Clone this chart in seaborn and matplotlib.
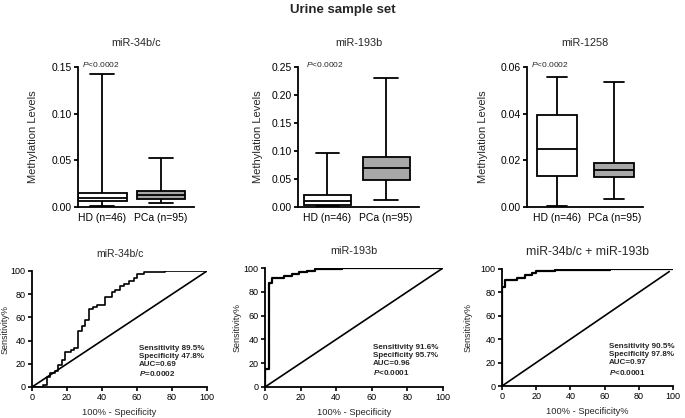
import numpy as np
import pandas as pd
import matplotlib
matplotlib.use("Agg")
import matplotlib.pyplot as plt
from matplotlib.ticker import FormatStrFormatter
import seaborn as sns

sns.set_style("ticks")
plt.rcParams['font.family'] = ['Liberation Sans', 'DejaVu Sans']
plt.rcParams['mathtext.fontset'] = 'custom'
plt.rcParams['mathtext.rm'] = 'Liberation Sans'
plt.rcParams['mathtext.it'] = 'Liberation Sans:italic'
plt.rcParams['mathtext.bf'] = 'Liberation Sans:bold'
plt.rcParams['mathtext.bfit'] = 'Liberation Sans:italic:bold'

# box plots: min, Q1, median, Q3, max
groups = ["HD (n=46)", "PCa (n=95)"]
mir34_hd = [0.001, 0.006, 0.010, 0.015, 0.142]
mir34_pca = [0.0046, 0.009, 0.0125, 0.017, 0.053]
mir193_hd = [0.002, 0.004, 0.011, 0.021, 0.097]
mir193_pca = [0.013, 0.049, 0.070, 0.090, 0.230]
mir1258_hd = [0.0004, 0.0131, 0.0249, 0.0393, 0.0557]
mir1258_pca = [0.0036, 0.0129, 0.0157, 0.0189, 0.0536]

# ROC curves (100% - specificity, sensitivity %)
fpr34 = [0, 6.5, 6.5, 8.8, 8.8, 10, 10, 13, 13, 15, 15, 17, 17, 19, 19, 22, 22, 24, 24,
         26.3, 26.3, 28.5, 28.5, 30.5, 30.5, 32.5, 32.5, 35, 35, 37, 37, 41.5, 41.5,
         45.5, 45.5, 47.5, 47.5, 50, 50, 52.5, 52.5, 55.5, 55.5, 58, 58, 60, 60, 64, 64,
         76, 76, 100]
tpr34 = [0, 0, 2, 2, 9, 9, 12, 12, 14, 14, 19, 19, 23, 23, 30, 30, 32, 32, 34,
         34, 48, 48, 53, 53, 58, 58, 67, 67, 69, 69, 71, 71, 78,
         78, 82, 82, 84, 84, 87, 87, 89, 89, 91, 91, 94, 94, 97, 97, 99,
         99, 100, 100]
fpr193 = [0, 0, 2.1, 2.1, 3.9, 3.9, 10.5, 10.5, 15.2, 15.2, 18.9, 18.9, 23.6, 23.6,
          28.3, 28.3, 37.6, 37.6, 43.3, 43.3, 100]
tpr193 = [0, 15, 15, 87.5, 87.5, 92, 92, 93.5, 93.5, 95, 95, 96.5, 96.5, 97.5,
          97.5, 98.8, 98.8, 99.4, 99.4, 100, 100]
fpr_combo = [0, 0, 1.8, 1.8, 8.6, 8.6, 13.5, 13.5, 17.3, 17.3, 19.9, 19.9, 31, 31, 63, 63, 100]
tpr_combo = [0, 84.5, 84.5, 90.3, 90.3, 92.3, 92.3, 94.6, 94.6, 96.6, 96.6, 98, 98, 99.4, 99.4, 100, 100]
diag_full = [0, 100]
diag_combo = [0, 97.8]

stats34 = ["Sensitivity 89.5%", "Specificity 47.8%", "AUC=0.69", "$\\mathbfit{P}$=0.0002"]
stats193 = ["Sensitivity 91.6%", "Specificity 95.7%", "AUC=0.96", "$\\mathbfit{P}$<0.0001"]
stats_combo = ["Sensitivity 90.5%", "Specificity 97.8%", "AUC=0.97", "$\\mathbfit{P}$<0.0001"]

W, H = 685, 418


def px(x0, y0, x1, y1):
    return [x0 / W, (H - y1) / H, (x1 - x0) / W, (y1 - y0) / H]


fig = plt.figure(figsize=(6.85, 4.18), dpi=100)
fig.text(0.5, 1 - 10 / H, "Urine sample set", ha="center", va="center",
         fontsize=9.5, fontweight="bold")


def style_axes(ax):
    sns.despine(ax=ax)
    for s in ["left", "bottom"]:
        ax.spines[s].set_linewidth(1.3)
        ax.spines[s].set_color("black")


def box_panel(rect, title, hd, pca, ymax, ystep, xlim, width, p_x, ylab_x):
    ax = fig.add_axes(px(*rect))
    df = pd.DataFrame({"group": [groups[0]] * len(hd) + [groups[1]] * len(pca),
                       "value": hd + pca})
    sns.boxplot(data=df, x="group", y="value", hue="group",
                palette={groups[0]: "white", groups[1]: "#a8a8a8"},
                saturation=1, whis=(0, 100), width=width, linecolor="black",
                linewidth=1.3, legend=False, ax=ax)
    style_axes(ax)
    ax.set_xlim(*xlim)
    ax.set_ylim(0, ymax)
    ax.set_yticks(np.arange(0, ymax + 1e-9, ystep))
    ax.yaxis.set_major_formatter(FormatStrFormatter("%.2f"))
    ax.tick_params(axis="x", length=0, pad=4.5, labelsize=7.5, colors="black")
    ax.tick_params(axis="y", length=3, width=1.3, pad=1.5, labelsize=7.5, colors="black")
    ax.set_xlabel("")
    ax.set_ylabel("Methylation Levels", fontsize=8)
    ax.yaxis.set_label_coords(ylab_x, 0.5)
    ax.set_title(title, fontsize=7.8, pad=15)
    ax.text(p_x, 1.02, "$\\it{P}$<0.0002", transform=ax.transAxes,
            fontsize=6, ha="left", va="center")
    return ax


def roc_panel(rect, title, tsize, fpr, tpr, diag, lw, stats, sx, ylab_x):
    ax = fig.add_axes(px(*rect))
    sns.lineplot(x=diag, y=diag, sort=False, estimator=None, color="black",
                 linewidth=1.2, ax=ax)
    sns.lineplot(x=fpr, y=tpr, sort=False, estimator=None, color="black",
                 linewidth=lw, ax=ax)
    style_axes(ax)
    ax.set_xlim(0, 100)
    ax.set_ylim(0, 100)
    ax.set_xticks(range(0, 101, 20))
    ax.set_yticks(range(0, 101, 20))
    ax.tick_params(length=3, width=1.2, pad=1.5, labelsize=6.5, colors="black")
    ax.set_xlabel(xlabels.pop(0), fontsize=6.7, labelpad=4)
    ax.set_ylabel("Sensitivity%", fontsize=6.5)
    ax.yaxis.set_label_coords(ylab_x, 0.5)
    ax.set_title(title, fontsize=tsize, pad=10)
    ax.text(sx, 36.5, "\n".join(stats), fontsize=5.8, fontweight="bold",
            ha="left", va="top", linespacing=1.2)
    return ax


box_panel((78, 67, 194, 207), "miR-34b/c", mir34_hd, mir34_pca, 0.15, 0.05,
          (-0.41, 1.56), 0.83, 0.035, -0.345)
box_panel((298, 67, 419, 207), "miR-193b", mir193_hd, mir193_pca, 0.25, 0.05,
          (-0.5, 1.56), 0.8, 0.066, -0.29)
box_panel((527, 67, 643, 207), "miR-1258", mir1258_hd, mir1258_pca, 0.06, 0.02,
          (-0.52, 1.5), 0.7, 0.035, -0.336)

xlabels = ["100% - Specificity", "100% - Specificity", "100% - Specificity%"]
roc_panel((32, 271, 207, 387), "miR-34b/c", 7.5, fpr34, tpr34, diag_full, 1.2,
          stats34, 61, -0.13)
roc_panel((265, 268, 443, 387), "miR-193b", 7.8, fpr193, tpr193, diag_full, 1.6,
          stats193, 60.4, -0.132)
roc_panel((502, 269, 673, 386), "miR-34b/c + miR-193b", 8.8, fpr_combo, tpr_combo,
          diag_combo, 1.6, stats_combo, 62.7, -0.173)

fig.savefig("out.png", dpi=100)
